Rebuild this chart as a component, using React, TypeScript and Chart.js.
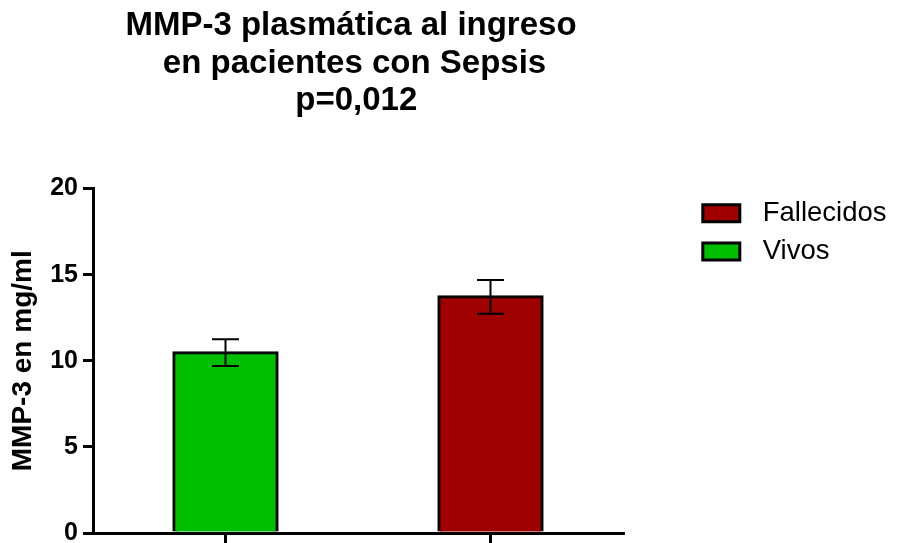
import React, { useEffect, useRef } from 'react';
import { Chart, registerables } from 'chart.js';

Chart.register(...registerables);

// ---- data ----
const categories = ['Vivos', 'Fallecidos'];
const means = [10.47, 13.71];
const sems = [0.78, 0.98];
const barColors = ['#00BF00', '#9F0000'];
const yTicks = [0, 5, 10, 15, 20];
const titleLines = ['MMP-3 plasmática al ingreso', 'en pacientes con Sepsis', 'p=0,012'];
const yAxisTitle = 'MMP-3 en mg/ml';

const FONT = '"Liberation Sans", Arial, Helvetica, sans-serif';

const errorBarPlugin = {
  id: 'errorBars',
  afterDatasetsDraw(chart: any) {
    const { ctx } = chart;
    const x = chart.scales.x;
    const y = chart.scales.y;
    ctx.save();
    ctx.strokeStyle = '#000';
    ctx.lineWidth = 2;
    means.forEach((m, i) => {
      const cx = x.getPixelForValue(i);
      const top = y.getPixelForValue(m + sems[i]);
      const bot = y.getPixelForValue(m - sems[i]);
      const half = 13.5;
      ctx.beginPath();
      ctx.moveTo(cx, top);
      ctx.lineTo(cx, bot);
      ctx.moveTo(cx - half, top);
      ctx.lineTo(cx + half, top);
      ctx.moveTo(cx - half, bot);
      ctx.lineTo(cx + half, bot);
      ctx.stroke();
    });
    ctx.restore();
  },
};

const titlePlugin = {
  id: 'multiTitle',
  afterDraw(chart: any) {
    const { ctx, chartArea } = chart;
    const cx = (chartArea.left + chartArea.right) / 2;
    const offsets = [-7, -3.5, -1.7];
    const baselines = [35, 72.5, 110];
    ctx.save();
    ctx.font = `bold 33px ${FONT}`;
    ctx.fillStyle = '#000';
    ctx.textAlign = 'center';
    ctx.textBaseline = 'alphabetic';
    titleLines.forEach((t, i) => ctx.fillText(t, cx + offsets[i], baselines[i]));
    ctx.restore();
  },
};

export default function App() {
  const ref = useRef<HTMLCanvasElement>(null);

  useEffect(() => {
    const datasets = categories.map((name, i) => ({
      label: name,
      data: categories.map((_, j) => (j === i ? means[i] : null)),
      backgroundColor: barColors[i],
      borderColor: '#000',
      borderWidth: 3,
      borderSkipped: 'start' as const,
      inflateAmount: 1.5,
      grouped: false,
      barPercentage: 0.39,
      categoryPercentage: 1,
    }));

    const chart = new Chart(ref.current as HTMLCanvasElement, {
      type: 'bar',
      data: { labels: categories, datasets },
      plugins: [errorBarPlugin, titlePlugin],
      options: {
        responsive: false,
        animation: false,
        devicePixelRatio: 1,
        layout: { padding: { top: 188.5, left: 0, right: 3.1, bottom: 17 } },
        plugins: {
          title: { display: false },
          tooltip: { enabled: false },
          legend: {
            display: true,
            position: 'right',
            align: 'start',
            reverse: true,
            maxWidth: 202,
            labels: {
              boxWidth: 37,
              boxHeight: 17,
              padding: 10.9,
              color: '#000',
              font: { family: FONT, size: 27.5 },
              generateLabels: (c: any) =>
                (Chart.defaults.plugins.legend.labels as any)
                  .generateLabels(c)
                  .map((l: any) => ({ ...l, text: '\u2004' + l.text })),
            },
          },
        },
        scales: {
          x: {
            type: 'category',
            offset: true,
            grid: {
              display: true,
              offset: false,
              drawOnChartArea: false,
              drawTicks: true,
              tickLength: 10,
              lineWidth: 3,
              color: '#000',
            },
            border: { display: true, width: 3, color: '#000' },
            ticks: { display: false },
          },
          y: {
            type: 'linear',
            min: yTicks[0],
            max: yTicks[yTicks.length - 1],
            afterBuildTicks: (s: any) => {
              s.ticks = yTicks.map((v) => ({ value: v }));
            },
            afterFit: (s: any) => {
              s.width = 93;
            },
            grid: {
              display: true,
              drawOnChartArea: false,
              drawTicks: true,
              tickLength: 10,
              lineWidth: 3,
              color: '#000',
            },
            border: { display: true, width: 3, color: '#000' },
            ticks: {
              color: '#000',
              padding: 5,
              font: { family: FONT, size: 25, weight: 'bold' },
            },
            title: {
              display: true,
              text: yAxisTitle,
              color: '#000',
              padding: { top: 6, bottom: 0 },
              font: { family: FONT, size: 28, weight: 'bold' },
            },
          },
          gap: {
            type: 'linear',
            position: 'right',
            display: true,
            grid: { display: false },
            border: { display: false },
            ticks: { display: false },
            title: { display: false },
            afterFit: (s: any) => {
              s.width = 68.9;
            },
          },
        },
      } as any,
    });
    return () => chart.destroy();
  }, []);

  return (
    <div
      style={{
        position: 'fixed',
        left: 0,
        top: 0,
        width: 897,
        height: 543,
        overflow: 'hidden',
        background: '#fff',
      }}
    >
      <canvas ref={ref} width={897} height={560} style={{ display: 'block', width: 897, height: 560 }} />
    </div>
  );
}
